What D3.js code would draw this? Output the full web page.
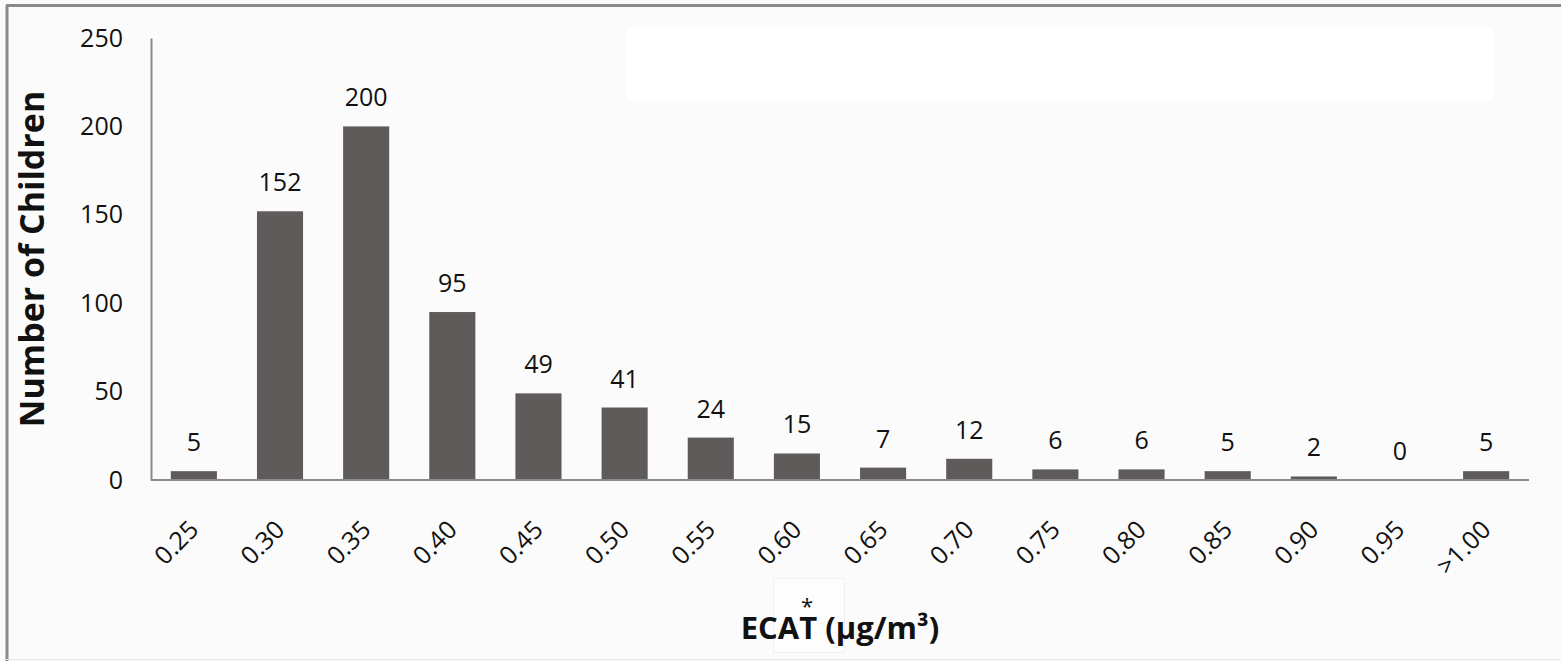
<!DOCTYPE html>
<html><head><meta charset="utf-8">
<script src="https://cdn.jsdelivr.net/npm/d3@7/dist/d3.min.js"></script>
<style>
html,body{margin:0;padding:0;background:#fbfbfb;}
svg{display:block;font-family:"Open Sans","Noto Sans",sans-serif;}
</style></head>
<body>
<svg id="chart" width="1561" height="661"></svg>
<script>
const categories = ["0.25","0.30","0.35","0.40","0.45","0.50","0.55","0.60","0.65","0.70","0.75","0.80","0.85","0.90","0.95",">1.00"];
const counts = [5,152,200,95,49,41,24,15,7,12,6,6,5,2,0,5];
const yTicks = [0,50,100,150,200,250];
const yTitle = "Number of Children";

const svg = d3.select("#chart");
const W = 1561, H = 661;
const m = {left:151, right:32, top:38, bottom:181};

svg.append("rect").attr("width",W).attr("height",H).attr("fill","#fbfbfb");
// frame
svg.append("line").attr("x1",6).attr("x2",W).attr("y1",5.5).attr("y2",5.5).attr("stroke","#8a8a8a").attr("stroke-width",3);
svg.append("line").attr("x1",7).attr("x2",7).attr("y1",5).attr("y2",H).attr("stroke","#8a8a8a").attr("stroke-width",3);
svg.append("line").attr("x1",6).attr("x2",W).attr("y1",659.5).attr("y2",659.5).attr("stroke","#e6e6e6").attr("stroke-width",1);
// white box
svg.append("rect").attr("x",627).attr("y",28).attr("width",866).attr("height",73).attr("fill","#ffffff");
// faint box behind title
svg.append("rect").attr("x",773.5).attr("y",578.5).attr("width",71).attr("height",74).attr("fill","#fdfdfd").attr("stroke","#f0f0f0");

const x = d3.scaleBand().domain(categories).range([m.left, W-m.right]).paddingInner(0.465).paddingOuter(0.23);
const y = d3.scaleLinear().domain([0,250]).range([H-m.bottom, m.top]);

svg.selectAll("rect.bar").data(counts).join("rect").attr("class","bar")
  .attr("x",(d,i)=>x(categories[i])).attr("width",x.bandwidth())
  .attr("y",d=>y(d)).attr("height",d=>y(0)-y(d)).attr("fill","#5f5b5b");

svg.selectAll("text.val").data(counts).join("text").attr("class","val")
  .attr("x",(d,i)=>x(categories[i])+x.bandwidth()/2).attr("y",d=>y(d)-20)
  .attr("text-anchor","middle").attr("font-size",25).attr("fill","#111").text(d=>d);

// y axis
const ya = svg.append("g").attr("transform",`translate(${m.left},0)`)
  .call(d3.axisLeft(y).tickValues(yTicks).tickSize(0).tickPadding(28));
ya.select(".domain").attr("stroke","#8a8a8a").attr("stroke-width",2);
ya.selectAll("text").attr("font-size",25).attr("fill","#111").attr("font-family","Open Sans, sans-serif");

// x axis
const xa = svg.append("g").attr("transform",`translate(0,${y(0)})`)
  .call(d3.axisBottom(x).tickSize(0).tickPadding(0));
xa.select(".domain").attr("stroke","#8a8a8a").attr("stroke-width",2).attr("d",`M${m.left},0H${W-m.right}`);
xa.selectAll("text").attr("font-size",25).attr("fill","#111").attr("font-family","Open Sans, sans-serif")
  .attr("text-anchor","end").attr("dy","0.35em")
  .attr("transform","translate(0,45) rotate(-45)");

// y title
svg.append("text").attr("transform","translate(44,259) rotate(-90)").attr("text-anchor","middle")
  .attr("font-size",34).attr("font-weight","bold").attr("fill","#111").text(yTitle);

// x title
svg.append("text").attr("x",840).attr("y",639).attr("text-anchor","middle")
  .attr("font-size",31).attr("font-weight","bold").attr("fill","#111").text("ECAT  (µg/m³)");
svg.append("text").attr("x",807).attr("y",614).attr("text-anchor","middle")
  .attr("font-size",22).attr("fill","#111").text("*");
</script>
</body></html>
